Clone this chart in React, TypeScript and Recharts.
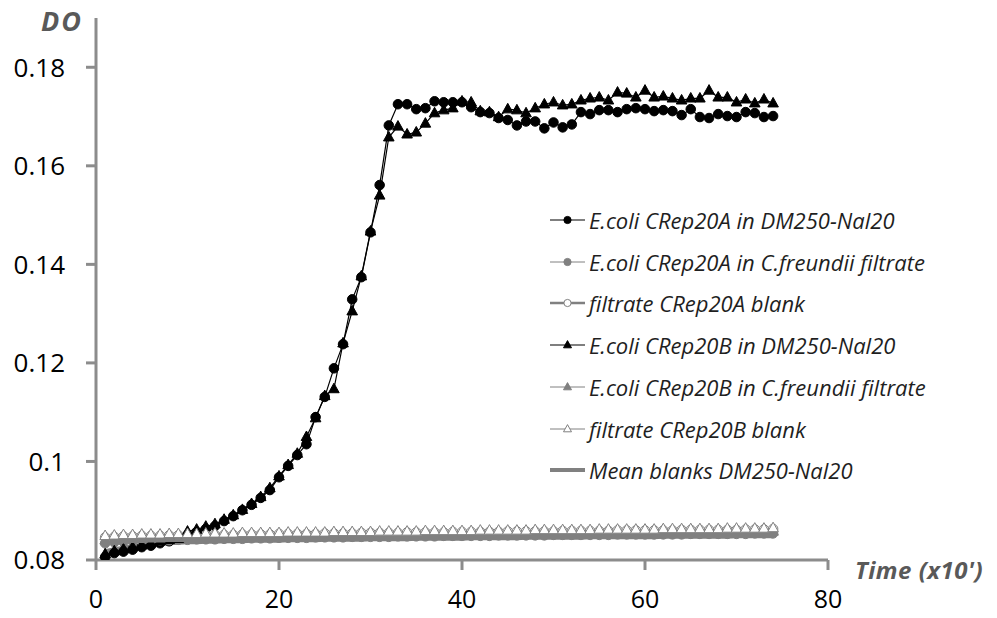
import React from 'react';
import { LineChart, Line, XAxis, YAxis } from 'recharts';

// time points (x10 min)
const time = [
  1, 2, 3, 4, 5, 6, 7, 8, 9, 10, 11, 12, 13, 14, 15, 16, 17, 18, 19, 20,
  21, 22, 23, 24, 25, 26, 27, 28, 29, 30, 31, 32, 33, 34, 35, 36, 37, 38, 39, 40,
  41, 42, 43, 44, 45, 46, 47, 48, 49, 50, 51, 52, 53, 54, 55, 56, 57, 58, 59, 60,
  61, 62, 63, 64, 65, 66, 67, 68, 69, 70, 71, 72, 73, 74,
];

// E.coli CRep20A in DM250-Nal20
const ecoliA = [
  0.0806, 0.0814, 0.0817, 0.0821, 0.0826, 0.0829, 0.0834, 0.0838, 0.0844, 0.0851,
  0.0857, 0.0863, 0.0869, 0.0879, 0.0889, 0.0901, 0.0912, 0.0926, 0.0942, 0.0968,
  0.0991, 0.1013, 0.1035, 0.109, 0.1131, 0.1189, 0.1238, 0.1329, 0.1374, 0.1465,
  0.1561, 0.1682, 0.1725, 0.1725, 0.1715, 0.1717, 0.1731, 0.1729, 0.1729, 0.1729,
  0.1719, 0.1709, 0.1707, 0.1697, 0.1693, 0.1682, 0.169, 0.169, 0.1676, 0.1688,
  0.1678, 0.1684, 0.1709, 0.1705, 0.1713, 0.1713, 0.1709, 0.1715, 0.1717, 0.1715,
  0.1711, 0.1713, 0.1711, 0.1703, 0.1715, 0.1699, 0.1697, 0.1705, 0.1701, 0.1699,
  0.1709, 0.1707, 0.1699, 0.1701,
];

// E.coli CRep20A in C.freundii filtrate
const filtA = [
  0.0834, 0.0836, 0.0837, 0.0838, 0.0839, 0.0839, 0.084, 0.084, 0.0841, 0.0841,
  0.0842, 0.0842, 0.0842, 0.0843, 0.0843, 0.0843, 0.0844, 0.0844, 0.0844, 0.0845,
  0.0845, 0.0845, 0.0845, 0.0846, 0.0846, 0.0846, 0.0846, 0.0847, 0.0847, 0.0847,
  0.0847, 0.0847, 0.0848, 0.0848, 0.0848, 0.0848, 0.0848, 0.0849, 0.0849, 0.0849,
  0.0849, 0.0849, 0.0849, 0.085, 0.085, 0.085, 0.085, 0.085, 0.085, 0.0851,
  0.0851, 0.0851, 0.0851, 0.0851, 0.0851, 0.0851, 0.0852, 0.0852, 0.0852, 0.0852,
  0.0852, 0.0852, 0.0852, 0.0852, 0.0853, 0.0853, 0.0853, 0.0853, 0.0853, 0.0853,
  0.0853, 0.0854, 0.0854, 0.0854,
];

// filtrate CRep20A blank
const blankA = [
  0.0846, 0.0847, 0.0848, 0.0848, 0.0849, 0.0849, 0.0849, 0.085, 0.085, 0.085,
  0.085, 0.0851, 0.0851, 0.0851, 0.0851, 0.0852, 0.0852, 0.0852, 0.0852, 0.0853,
  0.0853, 0.0853, 0.0853, 0.0853, 0.0854, 0.0854, 0.0854, 0.0854, 0.0855, 0.0855,
  0.0855, 0.0855, 0.0855, 0.0856, 0.0856, 0.0856, 0.0856, 0.0856, 0.0857, 0.0857,
  0.0857, 0.0857, 0.0857, 0.0857, 0.0858, 0.0858, 0.0858, 0.0858, 0.0858, 0.0858,
  0.0859, 0.0859, 0.0859, 0.0859, 0.0859, 0.0859, 0.086, 0.086, 0.086, 0.086,
  0.086, 0.086, 0.086, 0.0861, 0.0861, 0.0861, 0.0861, 0.0861, 0.0861, 0.0861,
  0.0862, 0.0862, 0.0862, 0.0863,
];

// E.coli CRep20B in DM250-Nal20
const ecoliB = [
  0.0812, 0.0818, 0.0822, 0.0826, 0.083, 0.0834, 0.0838, 0.0841, 0.0843, 0.0858,
  0.0862, 0.0868, 0.0873, 0.0882, 0.0891, 0.0902, 0.0914, 0.0928, 0.0946, 0.097,
  0.0993, 0.1016, 0.105, 0.1088, 0.1133, 0.1147, 0.124, 0.1305, 0.1376, 0.1467,
  0.154, 0.1658, 0.168, 0.1664, 0.1668, 0.1686, 0.1707, 0.1713, 0.1717, 0.1731,
  0.1729, 0.1711, 0.1709, 0.1699, 0.1715, 0.1713, 0.1707, 0.1717, 0.1725, 0.1729,
  0.1723, 0.1725, 0.1733, 0.1737, 0.1739, 0.1733, 0.1749, 0.1747, 0.1739, 0.1753,
  0.1739, 0.1741, 0.1737, 0.1733, 0.1737, 0.1737, 0.1753, 0.1739, 0.1739, 0.1729,
  0.1735, 0.1727, 0.1735, 0.1727,
];

// E.coli CRep20B in C.freundii filtrate
const filtB = [
  0.084, 0.0841, 0.0842, 0.0843, 0.0843, 0.0844, 0.0844, 0.0845, 0.0845, 0.0845,
  0.0846, 0.0846, 0.0846, 0.0847, 0.0847, 0.0847, 0.0847, 0.0848, 0.0848, 0.0848,
  0.0848, 0.0849, 0.0849, 0.0849, 0.0849, 0.085, 0.085, 0.085, 0.085, 0.085,
  0.0851, 0.0851, 0.0851, 0.0851, 0.0851, 0.0852, 0.0852, 0.0852, 0.0852, 0.0852,
  0.0853, 0.0853, 0.0853, 0.0853, 0.0853, 0.0853, 0.0854, 0.0854, 0.0854, 0.0854,
  0.0854, 0.0854, 0.0855, 0.0855, 0.0855, 0.0855, 0.0855, 0.0855, 0.0855, 0.0856,
  0.0856, 0.0856, 0.0856, 0.0856, 0.0856, 0.0856, 0.0857, 0.0857, 0.0857, 0.0857,
  0.0857, 0.0857, 0.0858, 0.0858,
];

// filtrate CRep20B blank
const blankB = [
  0.0849, 0.085, 0.0851, 0.0851, 0.0852, 0.0852, 0.0852, 0.0853, 0.0853, 0.0853,
  0.0853, 0.0854, 0.0854, 0.0854, 0.0854, 0.0855, 0.0855, 0.0855, 0.0855, 0.0855,
  0.0856, 0.0856, 0.0856, 0.0856, 0.0856, 0.0857, 0.0857, 0.0857, 0.0857, 0.0857,
  0.0858, 0.0858, 0.0858, 0.0858, 0.0858, 0.0859, 0.0859, 0.0859, 0.0859, 0.0859,
  0.0859, 0.086, 0.086, 0.086, 0.086, 0.086, 0.086, 0.0861, 0.0861, 0.0861,
  0.0861, 0.0861, 0.0861, 0.0861, 0.0862, 0.0862, 0.0862, 0.0862, 0.0862, 0.0862,
  0.0862, 0.0863, 0.0863, 0.0863, 0.0863, 0.0863, 0.0863, 0.0863, 0.0864, 0.0864,
  0.0864, 0.0864, 0.0864, 0.0865,
];

// Mean blanks DM250-Nal20
const meanBlank = [
  0.0818, 0.0822, 0.0825, 0.0828, 0.083, 0.0832, 0.0833, 0.0834, 0.0835, 0.0836,
  0.0836, 0.0837, 0.0837, 0.0838, 0.0838, 0.0838, 0.0839, 0.0839, 0.0839, 0.0839,
  0.084, 0.084, 0.084, 0.084, 0.0841, 0.0841, 0.0841, 0.0841, 0.0841, 0.0842,
  0.0842, 0.0842, 0.0842, 0.0842, 0.0843, 0.0843, 0.0843, 0.0843, 0.0843, 0.0843,
  0.0844, 0.0844, 0.0844, 0.0844, 0.0844, 0.0844, 0.0845, 0.0845, 0.0845, 0.0845,
  0.0845, 0.0845, 0.0845, 0.0846, 0.0846, 0.0846, 0.0846, 0.0846, 0.0846, 0.0846,
  0.0846, 0.0847, 0.0847, 0.0847, 0.0847, 0.0847, 0.0847, 0.0847, 0.0847, 0.0848,
  0.0848, 0.0848, 0.0848, 0.0848,
];

const xTicks = [0, 20, 40, 60, 80];
const yTicks = [0.08, 0.1, 0.12, 0.14, 0.16, 0.18];

const legendNames = [
  'E.coli CRep20A in DM250-Nal20',
  'E.coli CRep20A in C.freundii filtrate',
  'filtrate CRep20A blank',
  'E.coli CRep20B in DM250-Nal20',
  'E.coli CRep20B in C.freundii filtrate',
  'filtrate CRep20B blank',
  'Mean blanks DM250-Nal20',
];

const data = time.map((t, i) => ({
  t,
  ecoliA: ecoliA[i],
  filtA: filtA[i],
  blankA: blankA[i],
  ecoliB: ecoliB[i],
  filtB: filtB[i],
  blankB: blankB[i],
  meanBlank: meanBlank[i],
}));

const GREY = '#808080';
const AXIS = '#8c8c8c';
const FONT = '"Open Sans", sans-serif';

type Marker = 'circle' | 'triangle' | 'none';

interface Style {
  key: string;
  line: string;
  width: number;
  marker: Marker;
  fill: string;
  stroke: string;
}

const styles: Style[] = [
  { key: 'ecoliA', line: '#000', width: 1.2, marker: 'circle', fill: '#000', stroke: '#000' },
  { key: 'filtA', line: GREY, width: 1, marker: 'circle', fill: GREY, stroke: GREY },
  { key: 'blankA', line: GREY, width: 2.5, marker: 'circle', fill: '#fff', stroke: GREY },
  { key: 'ecoliB', line: '#000', width: 1.2, marker: 'triangle', fill: '#000', stroke: '#000' },
  { key: 'filtB', line: GREY, width: 1, marker: 'triangle', fill: GREY, stroke: GREY },
  { key: 'blankB', line: GREY, width: 1, marker: 'triangle', fill: '#fff', stroke: GREY },
  { key: 'meanBlank', line: GREY, width: 4, marker: 'none', fill: GREY, stroke: GREY },
];

const markerShape = (m: Marker, cx: number, cy: number, s: number, fill: string, stroke: string, key?: string) => {
  if (m === 'circle') {
    return <circle key={key} cx={cx} cy={cy} r={s * 0.9} fill={fill} stroke={stroke} strokeWidth={1} />;
  }
  if (m === 'triangle') {
    const pts = `${cx},${cy - s * 1.1} ${cx - s},${cy + s * 0.7} ${cx + s},${cy + s * 0.7}`;
    return <polygon key={key} points={pts} fill={fill} stroke={stroke} strokeWidth={1} />;
  }
  return null;
};

const makeDot = (st: Style) => (props: any) => {
  const { cx, cy, index } = props;
  if (cx == null || cy == null) return <g key={`${st.key}-${index}`} />;
  return markerShape(st.marker, cx, cy, 5.3, st.fill, st.stroke, `${st.key}-${index}`);
};

const LegendBox = () => (
  <div style={{ position: 'absolute', left: 548, top: 0 }}>
    {styles.map((st, i) => (
      <div
        key={st.key}
        style={{
          position: 'absolute',
          top: 220 + i * 41.7 - 15,
          left: 0,
          height: 30,
          display: 'flex',
          alignItems: 'center',
          whiteSpace: 'nowrap',
        }}
      >
        <svg width={38} height={30}>
          <line x1={2} y1={15} x2={37} y2={15} stroke={st.line} strokeWidth={st.width} />
          {markerShape(st.marker, 19.5, 15, 4, st.fill, st.stroke)}
        </svg>
        <span
          style={{
            fontFamily: FONT,
            fontStyle: 'italic',
            fontSize: 22,
            color: '#1f1f1f',
            marginLeft: 3,
            lineHeight: '30px',
          }}
        >
          {legendNames[i]}
        </span>
      </div>
    ))}
  </div>
);

export default function App() {
  return (
    <div style={{ position: 'absolute', left: 0, top: 0, width: 997, height: 618, background: '#fff' }}>
      <LineChart width={997} height={618} data={data} margin={{ top: 18, right: 169, bottom: 0, left: 0 }}>
        <XAxis
          dataKey="t"
          type="number"
          domain={[0, 80]}
          ticks={xTicks}
          height={58}
          tickSize={10}
          tickMargin={20}
          axisLine={{ stroke: AXIS, strokeWidth: 3 }}
          tickLine={{ stroke: AXIS, strokeWidth: 3 }}
          tick={{ fill: '#000', fontSize: 25, fontFamily: FONT }}
        />
        <YAxis
          type="number"
          domain={[0.08, 0.19]}
          ticks={yTicks}
          width={96}
          tickSize={10}
          tickMargin={21}
          allowDataOverflow
          tickFormatter={(v: number) => String(Math.round(v * 100) / 100)}
          axisLine={{ stroke: AXIS, strokeWidth: 3 }}
          tickLine={{ stroke: AXIS, strokeWidth: 3 }}
          tick={{ fill: '#000', fontSize: 26, fontFamily: FONT }}
        />
        {styles.map((st) => (
          <Line
            key={st.key}
            dataKey={st.key}
            type="linear"
            stroke={st.line}
            strokeWidth={st.width}
            dot={st.marker === 'none' ? false : makeDot(st)}
            activeDot={false}
            isAnimationActive={false}
          />
        ))}
      </LineChart>
      <div
        style={{
          position: 'absolute',
          left: 41,
          top: 2,
          fontFamily: FONT,
          fontWeight: 700,
          fontStyle: 'italic',
          fontSize: 27,
          letterSpacing: 2,
          color: '#595959',
        }}
      >
        DO
      </div>
      <div
        style={{
          position: 'absolute',
          left: 855,
          top: 553,
          fontFamily: FONT,
          fontWeight: 700,
          fontStyle: 'italic',
          fontSize: 24,
          letterSpacing: 0.5,
          color: '#595959',
          whiteSpace: 'nowrap',
        }}
      >
        Time (x10')
      </div>
      <LegendBox />
    </div>
  );
}
